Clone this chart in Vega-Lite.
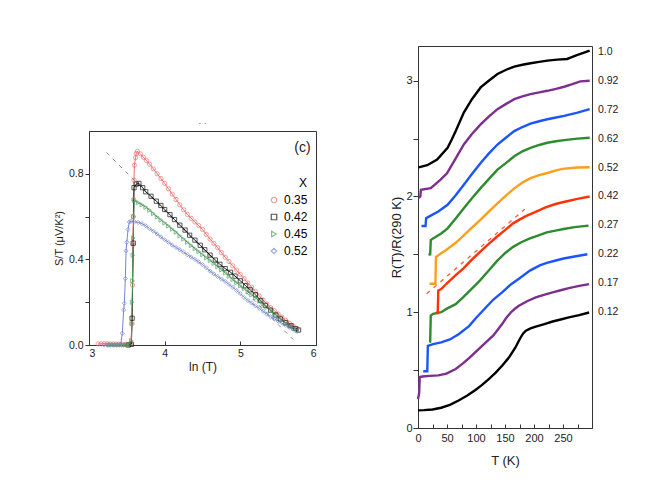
{
  "$schema": "https://vega.github.io/schema/vega-lite/v6.json",
  "padding": {"left": 52, "top": 45, "right": 5, "bottom": 5},
  "background": "white",
  "config": {
    "font": "Liberation Sans",
    "view": {"stroke": "#333", "strokeWidth": 1},
    "axis": {"grid": false, "domainColor": "#333", "tickColor": "#333", "labelColor": "#222", "titleColor": "#222", "titleFontWeight": "normal", "labelFont": "Liberation Sans", "titleFont": "Liberation Sans", "labelOverlap": false},
    "legend": {"labelFont": "Liberation Sans", "titleFont": "Liberation Sans"}
  },
  "spacing": 73,
  "resolve": {"scale": {"color": "independent", "shape": "independent", "x": "independent", "y": "independent"}},
  "datasets": {
    "seebeck": [
      {"X": "0.35", "lnT": 3.12, "ST": 0.005}, {"X": "0.35", "lnT": 3.16, "ST": 0.005}, {"X": "0.35", "lnT": 3.2, "ST": 0.006},
      {"X": "0.35", "lnT": 3.24, "ST": 0.006}, {"X": "0.35", "lnT": 3.28, "ST": 0.005}, {"X": "0.35", "lnT": 3.32, "ST": 0.005},
      {"X": "0.35", "lnT": 3.36, "ST": 0.004}, {"X": "0.35", "lnT": 3.4, "ST": 0.004}, {"X": "0.35", "lnT": 3.44, "ST": 0.003},
      {"X": "0.35", "lnT": 3.48, "ST": 0.003}, {"X": "0.35", "lnT": 3.52, "ST": 0.003}, {"X": "0.35", "lnT": 3.55, "ST": 0.004},
      {"X": "0.35", "lnT": 3.57, "ST": 0.1}, {"X": "0.35", "lnT": 3.575, "ST": 0.28}, {"X": "0.35", "lnT": 3.58, "ST": 0.47},
      {"X": "0.35", "lnT": 3.585, "ST": 0.6}, {"X": "0.35", "lnT": 3.59, "ST": 0.68}, {"X": "0.35", "lnT": 3.595, "ST": 0.77},
      {"X": "0.35", "lnT": 3.6, "ST": 0.84}, {"X": "0.35", "lnT": 3.615, "ST": 0.875}, {"X": "0.35", "lnT": 3.625, "ST": 0.895},
      {"X": "0.35", "lnT": 3.64, "ST": 0.905}, {"X": "0.35", "lnT": 3.68, "ST": 0.893}, {"X": "0.35", "lnT": 3.72, "ST": 0.877},
      {"X": "0.35", "lnT": 3.76, "ST": 0.862}, {"X": "0.35", "lnT": 3.8, "ST": 0.845}, {"X": "0.35", "lnT": 3.85, "ST": 0.823},
      {"X": "0.35", "lnT": 3.9, "ST": 0.8}, {"X": "0.35", "lnT": 3.95, "ST": 0.778}, {"X": "0.35", "lnT": 4.0, "ST": 0.755},
      {"X": "0.35", "lnT": 4.05, "ST": 0.73}, {"X": "0.35", "lnT": 4.1, "ST": 0.705}, {"X": "0.35", "lnT": 4.15, "ST": 0.68},
      {"X": "0.35", "lnT": 4.2, "ST": 0.655}, {"X": "0.35", "lnT": 4.25, "ST": 0.632}, {"X": "0.35", "lnT": 4.3, "ST": 0.61},
      {"X": "0.35", "lnT": 4.35, "ST": 0.592}, {"X": "0.35", "lnT": 4.4, "ST": 0.575}, {"X": "0.35", "lnT": 4.45, "ST": 0.558},
      {"X": "0.35", "lnT": 4.5, "ST": 0.54}, {"X": "0.35", "lnT": 4.55, "ST": 0.517}, {"X": "0.35", "lnT": 4.6, "ST": 0.495},
      {"X": "0.35", "lnT": 4.65, "ST": 0.475}, {"X": "0.35", "lnT": 4.7, "ST": 0.455}, {"X": "0.35", "lnT": 4.75, "ST": 0.432},
      {"X": "0.35", "lnT": 4.8, "ST": 0.41}, {"X": "0.35", "lnT": 4.85, "ST": 0.39}, {"X": "0.35", "lnT": 4.9, "ST": 0.37},
      {"X": "0.35", "lnT": 4.95, "ST": 0.35}, {"X": "0.35", "lnT": 5.0, "ST": 0.33}, {"X": "0.35", "lnT": 5.05, "ST": 0.31},
      {"X": "0.35", "lnT": 5.1, "ST": 0.29}, {"X": "0.35", "lnT": 5.15, "ST": 0.27}, {"X": "0.35", "lnT": 5.2, "ST": 0.25},
      {"X": "0.35", "lnT": 5.25, "ST": 0.23}, {"X": "0.35", "lnT": 5.3, "ST": 0.21}, {"X": "0.35", "lnT": 5.35, "ST": 0.192},
      {"X": "0.35", "lnT": 5.4, "ST": 0.175}, {"X": "0.35", "lnT": 5.45, "ST": 0.16}, {"X": "0.35", "lnT": 5.5, "ST": 0.145},
      {"X": "0.35", "lnT": 5.55, "ST": 0.13}, {"X": "0.35", "lnT": 5.6, "ST": 0.115}, {"X": "0.35", "lnT": 5.65, "ST": 0.101},
      {"X": "0.35", "lnT": 5.7, "ST": 0.088}, {"X": "0.35", "lnT": 5.75, "ST": 0.075},

      {"X": "0.42", "lnT": 3.52, "ST": 0.0}, {"X": "0.42", "lnT": 3.56, "ST": 0.003}, {"X": "0.42", "lnT": 3.57, "ST": 0.125},
      {"X": "0.42", "lnT": 3.585, "ST": 0.476}, {"X": "0.42", "lnT": 3.595, "ST": 0.735}, {"X": "0.42", "lnT": 3.625, "ST": 0.752},
      {"X": "0.42", "lnT": 3.66, "ST": 0.755}, {"X": "0.42", "lnT": 3.71, "ST": 0.735}, {"X": "0.42", "lnT": 3.75, "ST": 0.716},
      {"X": "0.42", "lnT": 3.82, "ST": 0.695}, {"X": "0.42", "lnT": 3.89, "ST": 0.672}, {"X": "0.42", "lnT": 3.95, "ST": 0.652},
      {"X": "0.42", "lnT": 4.0, "ST": 0.633}, {"X": "0.42", "lnT": 4.07, "ST": 0.609}, {"X": "0.42", "lnT": 4.13, "ST": 0.586},
      {"X": "0.42", "lnT": 4.2, "ST": 0.56}, {"X": "0.42", "lnT": 4.27, "ST": 0.537}, {"X": "0.42", "lnT": 4.33, "ST": 0.513},
      {"X": "0.42", "lnT": 4.4, "ST": 0.49}, {"X": "0.42", "lnT": 4.47, "ST": 0.466}, {"X": "0.42", "lnT": 4.53, "ST": 0.445},
      {"X": "0.42", "lnT": 4.6, "ST": 0.42}, {"X": "0.42", "lnT": 4.67, "ST": 0.397}, {"X": "0.42", "lnT": 4.73, "ST": 0.377},
      {"X": "0.42", "lnT": 4.8, "ST": 0.357}, {"X": "0.42", "lnT": 4.87, "ST": 0.34}, {"X": "0.42", "lnT": 4.93, "ST": 0.322},
      {"X": "0.42", "lnT": 5.0, "ST": 0.3}, {"X": "0.42", "lnT": 5.07, "ST": 0.277}, {"X": "0.42", "lnT": 5.13, "ST": 0.258},
      {"X": "0.42", "lnT": 5.2, "ST": 0.235}, {"X": "0.42", "lnT": 5.27, "ST": 0.207}, {"X": "0.42", "lnT": 5.33, "ST": 0.185},
      {"X": "0.42", "lnT": 5.4, "ST": 0.163}, {"X": "0.42", "lnT": 5.47, "ST": 0.14}, {"X": "0.42", "lnT": 5.53, "ST": 0.122},
      {"X": "0.42", "lnT": 5.6, "ST": 0.105}, {"X": "0.42", "lnT": 5.67, "ST": 0.09}, {"X": "0.42", "lnT": 5.73, "ST": 0.077},
      {"X": "0.42", "lnT": 5.77, "ST": 0.07},

      {"X": "0.45", "lnT": 3.27, "ST": 0.0}, {"X": "0.45", "lnT": 3.3, "ST": 0.0}, {"X": "0.45", "lnT": 3.33, "ST": 0.0},
      {"X": "0.45", "lnT": 3.36, "ST": 0.0}, {"X": "0.45", "lnT": 3.39, "ST": 0.0}, {"X": "0.45", "lnT": 3.42, "ST": 0.0},
      {"X": "0.45", "lnT": 3.45, "ST": 0.0}, {"X": "0.45", "lnT": 3.48, "ST": 0.0}, {"X": "0.45", "lnT": 3.51, "ST": 0.0},
      {"X": "0.45", "lnT": 3.54, "ST": 0.002}, {"X": "0.45", "lnT": 3.56, "ST": 0.02}, {"X": "0.45", "lnT": 3.565, "ST": 0.1},
      {"X": "0.45", "lnT": 3.57, "ST": 0.2}, {"X": "0.45", "lnT": 3.575, "ST": 0.3}, {"X": "0.45", "lnT": 3.58, "ST": 0.42},
      {"X": "0.45", "lnT": 3.585, "ST": 0.5}, {"X": "0.45", "lnT": 3.59, "ST": 0.6}, {"X": "0.45", "lnT": 3.6, "ST": 0.675},
      {"X": "0.45", "lnT": 3.65, "ST": 0.665}, {"X": "0.45", "lnT": 3.7, "ST": 0.655}, {"X": "0.45", "lnT": 3.75, "ST": 0.644},
      {"X": "0.45", "lnT": 3.8, "ST": 0.63}, {"X": "0.45", "lnT": 3.85, "ST": 0.614}, {"X": "0.45", "lnT": 3.9, "ST": 0.598},
      {"X": "0.45", "lnT": 3.95, "ST": 0.584}, {"X": "0.45", "lnT": 4.0, "ST": 0.57}, {"X": "0.45", "lnT": 4.05, "ST": 0.556},
      {"X": "0.45", "lnT": 4.1, "ST": 0.541}, {"X": "0.45", "lnT": 4.15, "ST": 0.527}, {"X": "0.45", "lnT": 4.2, "ST": 0.51},
      {"X": "0.45", "lnT": 4.25, "ST": 0.495}, {"X": "0.45", "lnT": 4.3, "ST": 0.48}, {"X": "0.45", "lnT": 4.35, "ST": 0.465},
      {"X": "0.45", "lnT": 4.4, "ST": 0.45}, {"X": "0.45", "lnT": 4.45, "ST": 0.436}, {"X": "0.45", "lnT": 4.5, "ST": 0.422},
      {"X": "0.45", "lnT": 4.55, "ST": 0.408}, {"X": "0.45", "lnT": 4.6, "ST": 0.395}, {"X": "0.45", "lnT": 4.65, "ST": 0.381},
      {"X": "0.45", "lnT": 4.7, "ST": 0.366}, {"X": "0.45", "lnT": 4.75, "ST": 0.351}, {"X": "0.45", "lnT": 4.8, "ST": 0.337},
      {"X": "0.45", "lnT": 4.85, "ST": 0.321}, {"X": "0.45", "lnT": 4.9, "ST": 0.306}, {"X": "0.45", "lnT": 4.95, "ST": 0.291},
      {"X": "0.45", "lnT": 5.0, "ST": 0.277}, {"X": "0.45", "lnT": 5.05, "ST": 0.263}, {"X": "0.45", "lnT": 5.1, "ST": 0.248},
      {"X": "0.45", "lnT": 5.15, "ST": 0.234}, {"X": "0.45", "lnT": 5.2, "ST": 0.22}, {"X": "0.45", "lnT": 5.25, "ST": 0.206},
      {"X": "0.45", "lnT": 5.3, "ST": 0.191}, {"X": "0.45", "lnT": 5.35, "ST": 0.175}, {"X": "0.45", "lnT": 5.4, "ST": 0.16},
      {"X": "0.45", "lnT": 5.45, "ST": 0.146}, {"X": "0.45", "lnT": 5.5, "ST": 0.131}, {"X": "0.45", "lnT": 5.55, "ST": 0.116},
      {"X": "0.45", "lnT": 5.6, "ST": 0.1}, {"X": "0.45", "lnT": 5.65, "ST": 0.089}, {"X": "0.45", "lnT": 5.7, "ST": 0.078},
      {"X": "0.45", "lnT": 5.75, "ST": 0.067},

      {"X": "0.52", "lnT": 3.2, "ST": 0.0}, {"X": "0.52", "lnT": 3.24, "ST": 0.0}, {"X": "0.52", "lnT": 3.28, "ST": 0.0},
      {"X": "0.52", "lnT": 3.32, "ST": 0.0}, {"X": "0.52", "lnT": 3.36, "ST": 0.0}, {"X": "0.52", "lnT": 3.4, "ST": 0.0},
      {"X": "0.52", "lnT": 3.42, "ST": 0.004}, {"X": "0.52", "lnT": 3.44, "ST": 0.055}, {"X": "0.52", "lnT": 3.458, "ST": 0.164},
      {"X": "0.52", "lnT": 3.467, "ST": 0.195}, {"X": "0.52", "lnT": 3.48, "ST": 0.31}, {"X": "0.52", "lnT": 3.49, "ST": 0.44},
      {"X": "0.52", "lnT": 3.5, "ST": 0.48}, {"X": "0.52", "lnT": 3.516, "ST": 0.54}, {"X": "0.52", "lnT": 3.533, "ST": 0.575},
      {"X": "0.52", "lnT": 3.556, "ST": 0.578}, {"X": "0.52", "lnT": 3.6, "ST": 0.576}, {"X": "0.52", "lnT": 3.65, "ST": 0.573},
      {"X": "0.52", "lnT": 3.7, "ST": 0.567}, {"X": "0.52", "lnT": 3.75, "ST": 0.557}, {"X": "0.52", "lnT": 3.8, "ST": 0.544},
      {"X": "0.52", "lnT": 3.85, "ST": 0.532}, {"X": "0.52", "lnT": 3.9, "ST": 0.519}, {"X": "0.52", "lnT": 3.95, "ST": 0.505},
      {"X": "0.52", "lnT": 4.0, "ST": 0.492}, {"X": "0.52", "lnT": 4.05, "ST": 0.48}, {"X": "0.52", "lnT": 4.1, "ST": 0.467},
      {"X": "0.52", "lnT": 4.15, "ST": 0.456}, {"X": "0.52", "lnT": 4.2, "ST": 0.445}, {"X": "0.52", "lnT": 4.25, "ST": 0.434},
      {"X": "0.52", "lnT": 4.3, "ST": 0.422}, {"X": "0.52", "lnT": 4.35, "ST": 0.411}, {"X": "0.52", "lnT": 4.4, "ST": 0.4},
      {"X": "0.52", "lnT": 4.45, "ST": 0.388}, {"X": "0.52", "lnT": 4.5, "ST": 0.376}, {"X": "0.52", "lnT": 4.55, "ST": 0.361},
      {"X": "0.52", "lnT": 4.6, "ST": 0.345}, {"X": "0.52", "lnT": 4.65, "ST": 0.332}, {"X": "0.52", "lnT": 4.7, "ST": 0.32},
      {"X": "0.52", "lnT": 4.75, "ST": 0.308}, {"X": "0.52", "lnT": 4.8, "ST": 0.297}, {"X": "0.52", "lnT": 4.85, "ST": 0.283},
      {"X": "0.52", "lnT": 4.9, "ST": 0.27}, {"X": "0.52", "lnT": 4.95, "ST": 0.255}, {"X": "0.52", "lnT": 5.0, "ST": 0.24},
      {"X": "0.52", "lnT": 5.05, "ST": 0.222}, {"X": "0.52", "lnT": 5.1, "ST": 0.208}, {"X": "0.52", "lnT": 5.15, "ST": 0.196},
      {"X": "0.52", "lnT": 5.2, "ST": 0.183}, {"X": "0.52", "lnT": 5.25, "ST": 0.171}, {"X": "0.52", "lnT": 5.3, "ST": 0.158},
      {"X": "0.52", "lnT": 5.35, "ST": 0.144}, {"X": "0.52", "lnT": 5.4, "ST": 0.132}, {"X": "0.52", "lnT": 5.45, "ST": 0.122},
      {"X": "0.52", "lnT": 5.5, "ST": 0.112}, {"X": "0.52", "lnT": 5.55, "ST": 0.102}, {"X": "0.52", "lnT": 5.6, "ST": 0.092},
      {"X": "0.52", "lnT": 5.65, "ST": 0.083}, {"X": "0.52", "lnT": 5.7, "ST": 0.074}, {"X": "0.52", "lnT": 5.75, "ST": 0.064}
    ],
    "guide": [
      {"lnT": 3.23, "ST": 0.9}, {"lnT": 5.7, "ST": 0.025}
    ],
    "resist": [
      {"s": "0.12", "T": 0, "R": 0.152}, {"s": "0.12", "T": 10, "R": 0.154}, {"s": "0.12", "T": 25, "R": 0.16}, {"s": "0.12", "T": 40, "R": 0.175},
      {"s": "0.12", "T": 55, "R": 0.2}, {"s": "0.12", "T": 70, "R": 0.238}, {"s": "0.12", "T": 85, "R": 0.28}, {"s": "0.12", "T": 99, "R": 0.328},
      {"s": "0.12", "T": 110, "R": 0.37}, {"s": "0.12", "T": 122, "R": 0.423}, {"s": "0.12", "T": 134, "R": 0.478}, {"s": "0.12", "T": 145, "R": 0.538},
      {"s": "0.12", "T": 157, "R": 0.61}, {"s": "0.12", "T": 168, "R": 0.696}, {"s": "0.12", "T": 173, "R": 0.745}, {"s": "0.12", "T": 177, "R": 0.782},
      {"s": "0.12", "T": 181, "R": 0.815}, {"s": "0.12", "T": 186, "R": 0.84}, {"s": "0.12", "T": 194, "R": 0.86}, {"s": "0.12", "T": 203, "R": 0.875},
      {"s": "0.12", "T": 218, "R": 0.898}, {"s": "0.12", "T": 232, "R": 0.92}, {"s": "0.12", "T": 246, "R": 0.937}, {"s": "0.12", "T": 260, "R": 0.955},
      {"s": "0.12", "T": 278, "R": 0.975}, {"s": "0.12", "T": 295, "R": 0.998},

      {"s": "0.17", "T": 0, "R": 0.25}, {"s": "0.17", "T": 2, "R": 0.3}, {"s": "0.17", "T": 3, "R": 0.44}, {"s": "0.17", "T": 8, "R": 0.445},
      {"s": "0.17", "T": 20, "R": 0.45}, {"s": "0.17", "T": 35, "R": 0.455}, {"s": "0.17", "T": 49, "R": 0.47}, {"s": "0.17", "T": 65, "R": 0.51},
      {"s": "0.17", "T": 78, "R": 0.56}, {"s": "0.17", "T": 88, "R": 0.604}, {"s": "0.17", "T": 100, "R": 0.66}, {"s": "0.17", "T": 117, "R": 0.739},
      {"s": "0.17", "T": 130, "R": 0.8}, {"s": "0.17", "T": 145, "R": 0.898}, {"s": "0.17", "T": 152, "R": 0.95}, {"s": "0.17", "T": 160, "R": 0.998},
      {"s": "0.17", "T": 167, "R": 1.03}, {"s": "0.17", "T": 174, "R": 1.056}, {"s": "0.17", "T": 188, "R": 1.095}, {"s": "0.17", "T": 203, "R": 1.128},
      {"s": "0.17", "T": 217, "R": 1.15}, {"s": "0.17", "T": 232, "R": 1.171}, {"s": "0.17", "T": 246, "R": 1.19}, {"s": "0.17", "T": 260, "R": 1.209},
      {"s": "0.17", "T": 278, "R": 1.228}, {"s": "0.17", "T": 295, "R": 1.243},

      {"s": "0.22", "T": 9, "R": 0.49}, {"s": "0.22", "T": 16, "R": 0.49}, {"s": "0.22", "T": 17, "R": 0.71}, {"s": "0.22", "T": 26, "R": 0.725},
      {"s": "0.22", "T": 40, "R": 0.74}, {"s": "0.22", "T": 55, "R": 0.765}, {"s": "0.22", "T": 70, "R": 0.81}, {"s": "0.22", "T": 88, "R": 0.88},
      {"s": "0.22", "T": 100, "R": 0.95}, {"s": "0.22", "T": 117, "R": 1.041}, {"s": "0.22", "T": 130, "R": 1.11}, {"s": "0.22", "T": 145, "R": 1.171},
      {"s": "0.22", "T": 160, "R": 1.24}, {"s": "0.22", "T": 174, "R": 1.29}, {"s": "0.22", "T": 193, "R": 1.36}, {"s": "0.22", "T": 210, "R": 1.405},
      {"s": "0.22", "T": 222, "R": 1.426}, {"s": "0.22", "T": 236, "R": 1.445}, {"s": "0.22", "T": 251, "R": 1.464}, {"s": "0.22", "T": 270, "R": 1.482},
      {"s": "0.22", "T": 292, "R": 1.501},

      {"s": "0.27", "T": 20, "R": 0.739}, {"s": "0.27", "T": 21, "R": 0.745}, {"s": "0.27", "T": 22, "R": 0.971}, {"s": "0.27", "T": 26, "R": 0.986},
      {"s": "0.27", "T": 40, "R": 1.0}, {"s": "0.27", "T": 49, "R": 1.029}, {"s": "0.27", "T": 65, "R": 1.07}, {"s": "0.27", "T": 78, "R": 1.13},
      {"s": "0.27", "T": 92, "R": 1.2}, {"s": "0.27", "T": 107, "R": 1.275}, {"s": "0.27", "T": 122, "R": 1.36}, {"s": "0.27", "T": 136, "R": 1.441},
      {"s": "0.27", "T": 150, "R": 1.51}, {"s": "0.27", "T": 164, "R": 1.565}, {"s": "0.27", "T": 178, "R": 1.605}, {"s": "0.27", "T": 193, "R": 1.638},
      {"s": "0.27", "T": 208, "R": 1.665}, {"s": "0.27", "T": 222, "R": 1.69}, {"s": "0.27", "T": 237, "R": 1.705}, {"s": "0.27", "T": 251, "R": 1.719},
      {"s": "0.27", "T": 270, "R": 1.735}, {"s": "0.27", "T": 294, "R": 1.748},

      {"s": "0.42", "T": 30, "R": 0.994}, {"s": "0.42", "T": 34, "R": 0.994}, {"s": "0.42", "T": 35, "R": 1.188}, {"s": "0.42", "T": 40, "R": 1.2},
      {"s": "0.42", "T": 49, "R": 1.246}, {"s": "0.42", "T": 65, "R": 1.32}, {"s": "0.42", "T": 78, "R": 1.377}, {"s": "0.42", "T": 92, "R": 1.45},
      {"s": "0.42", "T": 107, "R": 1.522}, {"s": "0.42", "T": 122, "R": 1.59}, {"s": "0.42", "T": 136, "R": 1.652}, {"s": "0.42", "T": 150, "R": 1.71},
      {"s": "0.42", "T": 164, "R": 1.768}, {"s": "0.42", "T": 175, "R": 1.8}, {"s": "0.42", "T": 186, "R": 1.83}, {"s": "0.42", "T": 200, "R": 1.86},
      {"s": "0.42", "T": 220, "R": 1.905}, {"s": "0.42", "T": 237, "R": 1.935}, {"s": "0.42", "T": 255, "R": 1.957}, {"s": "0.42", "T": 275, "R": 1.98},
      {"s": "0.42", "T": 296, "R": 2.0},

      {"s": "0.52", "T": 20, "R": 1.246}, {"s": "0.52", "T": 30, "R": 1.246}, {"s": "0.52", "T": 31, "R": 1.478}, {"s": "0.52", "T": 40, "R": 1.51},
      {"s": "0.52", "T": 49, "R": 1.54}, {"s": "0.52", "T": 65, "R": 1.6}, {"s": "0.52", "T": 78, "R": 1.66}, {"s": "0.52", "T": 93, "R": 1.73},
      {"s": "0.52", "T": 108, "R": 1.8}, {"s": "0.52", "T": 122, "R": 1.87}, {"s": "0.52", "T": 137, "R": 1.94}, {"s": "0.52", "T": 152, "R": 2.01},
      {"s": "0.52", "T": 166, "R": 2.07}, {"s": "0.52", "T": 180, "R": 2.12}, {"s": "0.52", "T": 194, "R": 2.159}, {"s": "0.52", "T": 209, "R": 2.185},
      {"s": "0.52", "T": 223, "R": 2.203}, {"s": "0.52", "T": 238, "R": 2.225}, {"s": "0.52", "T": 252, "R": 2.241}, {"s": "0.52", "T": 275, "R": 2.25},
      {"s": "0.52", "T": 296, "R": 2.252},

      {"s": "0.62", "T": 18, "R": 1.499}, {"s": "0.62", "T": 21, "R": 1.5}, {"s": "0.62", "T": 22, "R": 1.623}, {"s": "0.62", "T": 26, "R": 1.638},
      {"s": "0.62", "T": 40, "R": 1.68}, {"s": "0.62", "T": 51, "R": 1.725}, {"s": "0.62", "T": 65, "R": 1.81}, {"s": "0.62", "T": 79, "R": 1.899},
      {"s": "0.62", "T": 93, "R": 1.985}, {"s": "0.62", "T": 108, "R": 2.072}, {"s": "0.62", "T": 122, "R": 2.15}, {"s": "0.62", "T": 137, "R": 2.232},
      {"s": "0.62", "T": 152, "R": 2.29}, {"s": "0.62", "T": 166, "R": 2.348}, {"s": "0.62", "T": 180, "R": 2.39}, {"s": "0.62", "T": 194, "R": 2.42},
      {"s": "0.62", "T": 209, "R": 2.445}, {"s": "0.62", "T": 223, "R": 2.464}, {"s": "0.62", "T": 238, "R": 2.477}, {"s": "0.62", "T": 252, "R": 2.487},
      {"s": "0.62", "T": 275, "R": 2.5}, {"s": "0.62", "T": 296, "R": 2.507},

      {"s": "0.72", "T": 6, "R": 1.745}, {"s": "0.72", "T": 13, "R": 1.745}, {"s": "0.72", "T": 14, "R": 1.812}, {"s": "0.72", "T": 22, "R": 1.835},
      {"s": "0.72", "T": 35, "R": 1.87}, {"s": "0.72", "T": 51, "R": 1.928}, {"s": "0.72", "T": 65, "R": 2.01}, {"s": "0.72", "T": 79, "R": 2.101},
      {"s": "0.72", "T": 93, "R": 2.195}, {"s": "0.72", "T": 108, "R": 2.29}, {"s": "0.72", "T": 122, "R": 2.37}, {"s": "0.72", "T": 137, "R": 2.449},
      {"s": "0.72", "T": 152, "R": 2.51}, {"s": "0.72", "T": 166, "R": 2.565}, {"s": "0.72", "T": 180, "R": 2.6}, {"s": "0.72", "T": 194, "R": 2.629},
      {"s": "0.72", "T": 209, "R": 2.65}, {"s": "0.72", "T": 223, "R": 2.667}, {"s": "0.72", "T": 238, "R": 2.682}, {"s": "0.72", "T": 252, "R": 2.696},
      {"s": "0.72", "T": 275, "R": 2.725}, {"s": "0.72", "T": 296, "R": 2.754},

      {"s": "0.92", "T": 1, "R": 1.99}, {"s": "0.92", "T": 4, "R": 2.0}, {"s": "0.92", "T": 5, "R": 2.058}, {"s": "0.92", "T": 22, "R": 2.072},
      {"s": "0.92", "T": 39, "R": 2.145}, {"s": "0.92", "T": 50, "R": 2.2}, {"s": "0.92", "T": 62, "R": 2.304}, {"s": "0.92", "T": 79, "R": 2.449},
      {"s": "0.92", "T": 93, "R": 2.54}, {"s": "0.92", "T": 108, "R": 2.623}, {"s": "0.92", "T": 122, "R": 2.69}, {"s": "0.92", "T": 137, "R": 2.754},
      {"s": "0.92", "T": 152, "R": 2.8}, {"s": "0.92", "T": 166, "R": 2.841}, {"s": "0.92", "T": 180, "R": 2.865}, {"s": "0.92", "T": 194, "R": 2.884},
      {"s": "0.92", "T": 209, "R": 2.9}, {"s": "0.92", "T": 223, "R": 2.913}, {"s": "0.92", "T": 238, "R": 2.93}, {"s": "0.92", "T": 252, "R": 2.948},
      {"s": "0.92", "T": 266, "R": 2.97}, {"s": "0.92", "T": 280, "R": 2.994}, {"s": "0.92", "T": 296, "R": 3.0},

      {"s": "1.0", "T": 1, "R": 2.252}, {"s": "1.0", "T": 16, "R": 2.27}, {"s": "1.0", "T": 33, "R": 2.319}, {"s": "1.0", "T": 51, "R": 2.42},
      {"s": "1.0", "T": 58, "R": 2.49}, {"s": "1.0", "T": 65, "R": 2.565}, {"s": "1.0", "T": 72, "R": 2.645}, {"s": "1.0", "T": 79, "R": 2.725},
      {"s": "1.0", "T": 93, "R": 2.84}, {"s": "1.0", "T": 108, "R": 2.942}, {"s": "1.0", "T": 122, "R": 3.0}, {"s": "1.0", "T": 137, "R": 3.058},
      {"s": "1.0", "T": 152, "R": 3.095}, {"s": "1.0", "T": 166, "R": 3.122}, {"s": "1.0", "T": 180, "R": 3.138}, {"s": "1.0", "T": 194, "R": 3.151},
      {"s": "1.0", "T": 209, "R": 3.163}, {"s": "1.0", "T": 223, "R": 3.174}, {"s": "1.0", "T": 240, "R": 3.182}, {"s": "1.0", "T": 257, "R": 3.188},
      {"s": "1.0", "T": 263, "R": 3.2}, {"s": "1.0", "T": 275, "R": 3.223}, {"s": "1.0", "T": 285, "R": 3.24}, {"s": "1.0", "T": 296, "R": 3.261}
    ],
    "fit": [
      {"T": 15, "R": 1.16}, {"T": 184, "R": 1.89}
    ],
    "tags": [
      {"label": "1.0", "R": 3.25}, {"label": "0.92", "R": 3.0}, {"label": "0.72", "R": 2.75}, {"label": "0.62", "R": 2.5},
      {"label": "0.52", "R": 2.25}, {"label": "0.42", "R": 2.0}, {"label": "0.27", "R": 1.75}, {"label": "0.22", "R": 1.5},
      {"label": "0.17", "R": 1.25}, {"label": "0.12", "R": 1.0}
    ],
    "panel": [
      {"label": "(c)"}
    ]
  },
  "hconcat": [
    {
      "spacing": 10,
      "vconcat": [
        {
          "width": 227,
          "height": 62,
          "view": {"stroke": null},
          "data": {"values": []},
          "mark": "point",
          "encoding": {}
        },
        {
          "width": 227,
          "height": 214,
          "title": {"text": "· ·", "fontSize": 9, "color": "#666", "offset": 3, "anchor": "middle", "fontWeight": "normal"},
          "layer": [
            {
              "data": {"name": "guide"},
              "mark": {"type": "line", "color": "#888", "strokeWidth": 1, "strokeDash": [4, 5]},
              "encoding": {
                "x": {"field": "lnT", "type": "quantitative"},
                "y": {"field": "ST", "type": "quantitative"}
              }
            },
            {
              "data": {"name": "seebeck"},
              "mark": {"type": "line", "strokeWidth": 1},
              "encoding": {
                "x": {"field": "lnT", "type": "quantitative"},
                "y": {"field": "ST", "type": "quantitative"},
                "color": {"field": "X", "type": "nominal",
                  "scale": {"domain": ["0.35", "0.42", "0.45", "0.52"], "range": ["#ef6f6f", "#111111", "#4f9f60", "#7787cf"]}}
              }
            },
            {
              "data": {"name": "seebeck"},
              "mark": {"type": "point", "filled": false, "strokeWidth": 1, "size": 18},
              "encoding": {
                "x": {"field": "lnT", "type": "quantitative", "scale": {"domain": [3, 6], "nice": false},
                  "axis": {"title": "ln (T)", "values": [3, 3.5, 4, 4.5, 5, 5.5, 6],
                    "labelExpr": "datum.value % 1 == 0 ? format(datum.value, 'd') : ''",
                    "tickSize": -4, "labelPadding": 7, "labelFontSize": 10.5, "titleFontSize": 12, "titlePadding": 3}},
                "y": {"field": "ST", "type": "quantitative", "scale": {"domain": [0, 1.0], "nice": false},
                  "axis": {"title": "S/T  (μV/K²)", "values": [0, 0.2, 0.4, 0.6, 0.8],
                    "labelExpr": "datum.value == 0 || datum.value == 0.4 || datum.value == 0.8 ? format(datum.value, '.1f') : ''",
                    "tickSize": 4, "labelPadding": 2, "labelFontSize": 10.5, "titleFontSize": 11, "titlePadding": 4}},
                "color": {"field": "X", "type": "nominal",
                  "scale": {"domain": ["0.35", "0.42", "0.45", "0.52"], "range": ["#ef6f6f", "#111111", "#4f9f60", "#7787cf"]},
                  "legend": {"title": "X", "orient": "none", "legendX": 179, "legendY": 132, "titleAnchor": "end",
                    "titleFontSize": 12, "titleFontWeight": "normal", "labelFontSize": 12, "symbolSize": 30,
                    "symbolStrokeWidth": 1.2, "rowPadding": 5, "titlePadding": 4, "padding": 0}},
                "shape": {"field": "X", "type": "nominal",
                  "scale": {"domain": ["0.35", "0.42", "0.45", "0.52"], "range": ["circle", "square", "triangle-right", "diamond"]}}
              }
            },
            {
              "data": {"name": "panel"},
              "mark": {"type": "text", "fontSize": 14, "align": "center", "baseline": "middle", "color": "#222"},
              "encoding": {
                "x": {"datum": 5.82, "type": "quantitative"},
                "y": {"datum": 0.92, "type": "quantitative"},
                "text": {"field": "label"}
              }
            }
          ]
        }
      ]
    },
    {
      "width": 174,
      "height": 382,
      "resolve": {"axis": {"x": "independent"}},
      "layer": [
        {
          "data": {"name": "resist"},
          "mark": {"type": "line", "strokeWidth": 2.4},
          "encoding": {
            "x": {"field": "T", "type": "quantitative", "scale": {"domain": [0, 300], "nice": false},
              "axis": {"title": "T (K)", "orient": "bottom", "values": [0, 50, 100, 150, 200, 250], "format": "d", "labelFlush": false,
                "tickSize": -4, "labelPadding": 8, "labelFontSize": 11, "titleFontSize": 13, "titlePadding": 11}},
            "y": {"field": "R", "type": "quantitative", "scale": {"domain": [0, 3.3], "nice": false},
              "axis": {"title": "R(T)/R(290 K)", "values": [0, 0.5, 1, 1.5, 2, 2.5, 3],
                "labelExpr": "datum.value % 1 == 0 ? format(datum.value, 'd') : ''",
                "tickSize": 5, "labelPadding": 1, "labelFontSize": 11, "titleFontSize": 13, "titlePadding": 2}},
            "color": {"field": "s", "type": "nominal", "legend": null,
              "scale": {"domain": ["0.12", "0.17", "0.22", "0.27", "0.42", "0.52", "0.62", "0.72", "0.92", "1.0"],
                "range": ["#000000", "#7d2e8e", "#1a55ff", "#2e8b2e", "#ff3300", "#ff9e1b", "#2e8b2e", "#1a55ff", "#7d2e8e", "#000000"]}}
          }
        },
        {
          "data": {"name": "fit"},
          "mark": {"type": "line", "color": "#ff5a40", "strokeWidth": 1.3, "strokeDash": [4, 5]},
          "encoding": {
            "x": {"field": "T", "type": "quantitative",
              "axis": {"title": null, "orient": "bottom", "values": [25, 75, 125, 175, 225, 275], "labels": false, "domain": false, "tickSize": -4}},
            "y": {"field": "R", "type": "quantitative"}
          }
        },
        {
          "data": {"name": "tags"},
          "mark": {"type": "text", "align": "left", "baseline": "middle", "dx": 6, "fontSize": 10.5, "color": "#222"},
          "encoding": {
            "x": {"datum": 300, "type": "quantitative", "axis": null},
            "y": {"field": "R", "type": "quantitative"},
            "text": {"field": "label"}
          }
        }
      ]
    }
  ]
}
